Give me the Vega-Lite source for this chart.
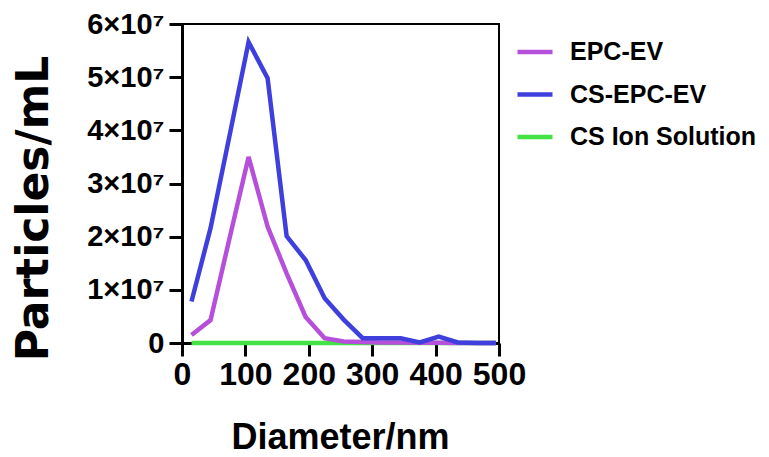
{
  "$schema": "https://vega.github.io/schema/vega-lite/v6.json",
  "width": 317,
  "height": 319,
  "autosize": {"type": "none"},
  "padding": {"left": 182, "top": 24, "right": 270, "bottom": 114},
  "background": "white",
  "config": {
    "view": {"stroke": "#000", "strokeWidth": 2},
    "font": "Liberation Sans"
  },
  "data": {
    "values": [
      {"series": "CS Ion Solution", "d": 15, "v": 0},
      {"series": "CS Ion Solution", "d": 45, "v": 0},
      {"series": "CS Ion Solution", "d": 75, "v": 0},
      {"series": "CS Ion Solution", "d": 105, "v": 0},
      {"series": "CS Ion Solution", "d": 135, "v": 0},
      {"series": "CS Ion Solution", "d": 165, "v": 0},
      {"series": "CS Ion Solution", "d": 195, "v": 0},
      {"series": "CS Ion Solution", "d": 225, "v": 0},
      {"series": "CS Ion Solution", "d": 255, "v": 0},
      {"series": "CS Ion Solution", "d": 285, "v": 0},
      {"series": "CS Ion Solution", "d": 315, "v": 0},
      {"series": "CS Ion Solution", "d": 345, "v": 0},
      {"series": "CS Ion Solution", "d": 375, "v": 0},
      {"series": "CS Ion Solution", "d": 405, "v": 0},
      {"series": "CS Ion Solution", "d": 435, "v": 0},
      {"series": "CS Ion Solution", "d": 465, "v": 0},
      {"series": "CS Ion Solution", "d": 495, "v": 0},
      {"series": "EPC-EV", "d": 15, "v": 1500000},
      {"series": "EPC-EV", "d": 45, "v": 4300000},
      {"series": "EPC-EV", "d": 75, "v": 19700000},
      {"series": "EPC-EV", "d": 105, "v": 35000000},
      {"series": "EPC-EV", "d": 135, "v": 21900000},
      {"series": "EPC-EV", "d": 165, "v": 13100000},
      {"series": "EPC-EV", "d": 195, "v": 4900000},
      {"series": "EPC-EV", "d": 225, "v": 900000},
      {"series": "EPC-EV", "d": 255, "v": 300000},
      {"series": "EPC-EV", "d": 285, "v": 200000},
      {"series": "EPC-EV", "d": 315, "v": 100000},
      {"series": "EPC-EV", "d": 345, "v": 100000},
      {"series": "EPC-EV", "d": 375, "v": 50000},
      {"series": "EPC-EV", "d": 405, "v": 50000},
      {"series": "EPC-EV", "d": 435, "v": 0},
      {"series": "EPC-EV", "d": 465, "v": 0},
      {"series": "EPC-EV", "d": 495, "v": 0},
      {"series": "CS-EPC-EV", "d": 15, "v": 7800000},
      {"series": "CS-EPC-EV", "d": 45, "v": 21600000},
      {"series": "CS-EPC-EV", "d": 75, "v": 39000000},
      {"series": "CS-EPC-EV", "d": 105, "v": 56600000},
      {"series": "CS-EPC-EV", "d": 135, "v": 49800000},
      {"series": "CS-EPC-EV", "d": 165, "v": 20100000},
      {"series": "CS-EPC-EV", "d": 195, "v": 15600000},
      {"series": "CS-EPC-EV", "d": 225, "v": 8400000},
      {"series": "CS-EPC-EV", "d": 255, "v": 4400000},
      {"series": "CS-EPC-EV", "d": 285, "v": 900000},
      {"series": "CS-EPC-EV", "d": 315, "v": 900000},
      {"series": "CS-EPC-EV", "d": 345, "v": 900000},
      {"series": "CS-EPC-EV", "d": 375, "v": 100000},
      {"series": "CS-EPC-EV", "d": 405, "v": 1200000},
      {"series": "CS-EPC-EV", "d": 435, "v": 100000},
      {"series": "CS-EPC-EV", "d": 465, "v": 0},
      {"series": "CS-EPC-EV", "d": 495, "v": 0}
    ]
  },
  "mark": {"type": "line", "strokeWidth": 4.5, "strokeJoin": "miter", "clip": false},
  "encoding": {
    "x": {
      "field": "d", "type": "quantitative",
      "scale": {"domain": [0, 500], "nice": false},
      "axis": {
        "values": [0, 100, 200, 300, 400, 500],
        "grid": false, "domainColor": "#000", "domainWidth": 3,
        "tickColor": "#000", "tickWidth": 3, "tickSize": 13,
        "labelFont": "Liberation Sans", "labelFontWeight": "bold", "labelFontSize": 32,
        "labelColor": "#000", "labelPadding": 3, "labelOverlap": false, "labelFlush": false,
        "title": "Diameter/nm", "titleFont": "Liberation Sans", "titleFontWeight": "bold",
        "titleFontSize": 36, "titleColor": "#000",
        "titleX": 158, "titleY": 94, "titleBaseline": "middle", "titleAlign": "center"
      }
    },
    "y": {
      "field": "v", "type": "quantitative",
      "scale": {"domain": [0, 60000000], "nice": false},
      "axis": {
        "values": [0, 10000000, 20000000, 30000000, 40000000, 50000000, 60000000],
        "labelExpr": "datum.value === 0 ? '0' : format(datum.value / 10000000, 'd') + '×10⁷'",
        "grid": false, "domainColor": "#000", "domainWidth": 3,
        "tickColor": "#000", "tickWidth": 3, "tickSize": 13,
        "labelFont": "Liberation Sans", "labelFontWeight": "bold", "labelFontSize": 29,
        "labelColor": "#000", "labelPadding": 5, "labelOverlap": false, "labelFlush": false,
        "title": "Particles/mL", "titleFont": "DejaVu Sans", "titleFontWeight": "bold",
        "titleFontSize": 44, "titleColor": "#000",
        "titleX": -148, "titleY": 184, "titleAngle": 270,
        "titleBaseline": "middle", "titleAlign": "center"
      }
    },
    "color": {
      "field": "series", "type": "nominal",
      "scale": {
        "domain": ["EPC-EV", "CS-EPC-EV", "CS Ion Solution"],
        "range": ["#b64fd9", "#3f3fdd", "#45e245"]
      },
      "legend": {
        "title": null, "orient": "none", "legendX": 333, "legendY": 8,
        "symbolType": "stroke", "symbolSize": 1225, "symbolStrokeWidth": 4.5,
        "labelFont": "Liberation Sans", "labelFontWeight": "bold", "labelFontSize": 25,
        "labelColor": "#000", "labelOffset": 15, "rowPadding": 9.5, "padding": 0,
        "labelLimit": 300
      }
    },
    "order": {"field": "series"}
  }
}
